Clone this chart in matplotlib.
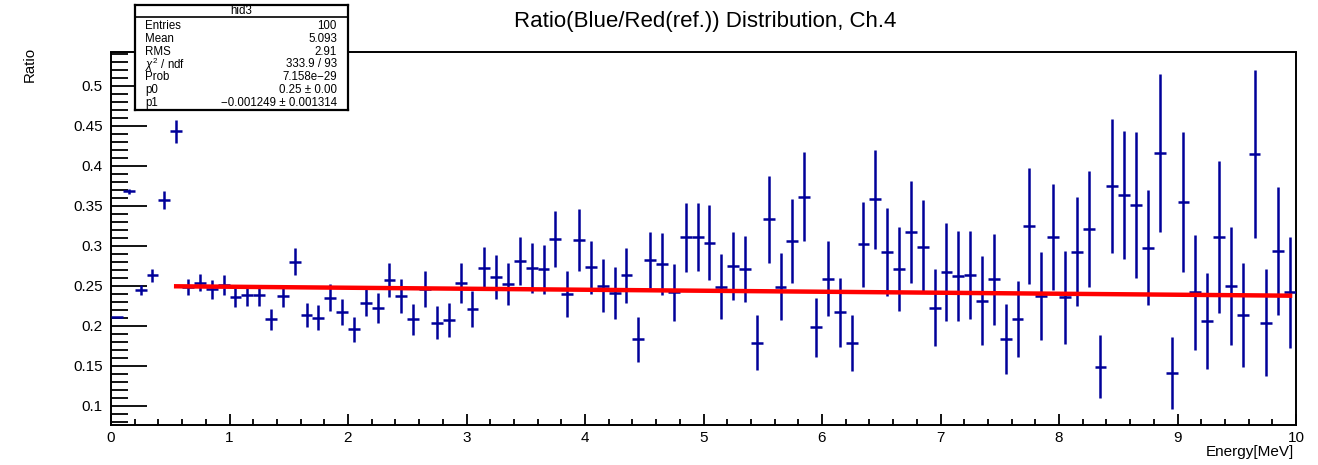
import numpy as np
import matplotlib
matplotlib.use('Agg')
import matplotlib.pyplot as plt
from matplotlib.ticker import MultipleLocator

plt.rcParams['font.family'] = ['Liberation Sans', 'DejaVu Sans']
plt.rcParams['mathtext.fontset'] = 'custom'
plt.rcParams['mathtext.rm'] = 'Liberation Sans'
plt.rcParams['mathtext.it'] = 'Liberation Sans:italic'

# histogram binning: 100 bins from 0 to 10 MeV
bin_edges = np.linspace(0, 10, 101)

# ratio per bin
ratio = [0.211, 0.368, 0.245, 0.263, 0.357, 0.443, 0.249, 0.254, 0.2455, 0.251,
         0.2355, 0.238, 0.238, 0.208, 0.237, 0.280, 0.213, 0.210, 0.235, 0.2175,
         0.1955, 0.229, 0.222, 0.257, 0.237, 0.208, 0.2455, 0.204, 0.207, 0.253,
         0.221, 0.2725, 0.261, 0.252, 0.281, 0.272, 0.2705, 0.308, 0.2396, 0.307,
         0.273, 0.250, 0.241, 0.263, 0.183, 0.282, 0.2775, 0.2417, 0.3105, 0.311,
         0.304, 0.249, 0.2746, 0.271, 0.179, 0.333, 0.249, 0.306, 0.361, 0.198,
         0.259, 0.2167, 0.179, 0.302, 0.358, 0.2925, 0.271, 0.317, 0.299, 0.2225,
         0.267, 0.262, 0.2634, 0.231, 0.258, 0.1834, 0.209, 0.3246, 0.237, 0.311,
         0.2355, 0.2925, 0.321, 0.149, 0.3746, 0.363, 0.351, 0.2975, 0.416, 0.1405,
         0.3546, 0.2417, 0.206, 0.311, 0.250, 0.2134, 0.4146, 0.204, 0.2934, 0.2417]

# error per bin
ratio_err = [0.0, 0.003, 0.006, 0.008, 0.011, 0.014, 0.010, 0.011, 0.0115, 0.0125,
             0.0125, 0.013, 0.0135, 0.013, 0.014, 0.0167, 0.015, 0.0155, 0.0167, 0.0165,
             0.016, 0.0173, 0.019, 0.021, 0.021, 0.0196, 0.0225, 0.021, 0.0215, 0.025,
             0.023, 0.026, 0.0275, 0.0267, 0.030, 0.031, 0.031, 0.035, 0.029, 0.0385,
             0.033, 0.033, 0.032, 0.034, 0.028, 0.035, 0.039, 0.036, 0.043, 0.042,
             0.0467, 0.041, 0.0425, 0.041, 0.034, 0.054, 0.042, 0.052, 0.0556, 0.037,
             0.047, 0.043, 0.035, 0.053, 0.062, 0.055, 0.053, 0.0635, 0.058, 0.048,
             0.061, 0.0567, 0.055, 0.0556, 0.057, 0.044, 0.0475, 0.073, 0.055, 0.066,
             0.058, 0.068, 0.072, 0.039, 0.084, 0.080, 0.091, 0.072, 0.0985, 0.045,
             0.088, 0.0715, 0.060, 0.095, 0.074, 0.0646, 0.105, 0.067, 0.0806, 0.069]

# linear fit pol1
p0 = 0.25
p1 = -0.001249
fit_range = [0.55, 9.95]

stats_labels = ['Entries', 'Mean', 'RMS', r'$\chi^{2}$ / ndf', 'Prob', 'p0', 'p1']
stats_values = ['100', '5.093', '2.91', '333.9 / 93', '7.158e\u221229',
                '0.25 \u00b1 0.00', '\u22120.001249 \u00b1 0.001314']

centers = (bin_edges[:-1] + bin_edges[1:]) / 2
half_w = (bin_edges[1:] - bin_edges[:-1]) / 2

fig = plt.figure(figsize=(13.18, 4.65), dpi=100)
ax = fig.add_axes([111 / 1318, 1 - 425 / 465, 1185 / 1318, 372.5 / 465])

ax.errorbar(centers, ratio, yerr=ratio_err, xerr=half_w, fmt='none',
            ecolor='#000099', elinewidth=1.8, capsize=0, zorder=3)

fx = np.array(fit_range)
ax.plot(fx, p0 + p1 * fx, color='#ff0000', lw=3.2, zorder=4)

ax.set_xlim(0, 10)
ax.set_ylim(0.0759, 0.5416)
ax.xaxis.set_major_locator(MultipleLocator(1))
ax.xaxis.set_minor_locator(MultipleLocator(0.2))
ax.yaxis.set_minor_locator(MultipleLocator(0.01))
ax.set_yticks([0.1, 0.15, 0.2, 0.25, 0.3, 0.35, 0.4, 0.45, 0.5])
ax.set_yticklabels(['0.1', '0.15', '0.2', '0.25', '0.3', '0.35', '0.4', '0.45', '0.5'])

ax.tick_params(axis='both', which='both', direction='in', labelsize=11, width=1.3)
ax.tick_params(axis='y', which='major', length=26, pad=6)
ax.tick_params(axis='y', which='minor', length=12.5)
ax.tick_params(axis='x', which='major', length=8, pad=4)
ax.tick_params(axis='x', which='minor', length=4)
for s in ax.spines.values():
    s.set_linewidth(1.4)

fig.text(1294 / 1318, 1 - 452 / 465, 'Energy[MeV]', ha='right', va='center', fontsize=11)
fig.text(30 / 1318, 1 - 64 / 465, 'Ratio', rotation=90, ha='center', va='center', fontsize=10.8)
fig.text(705 / 1318, 1 - 22 / 465, 'Ratio(Blue/Red(ref.)) Distribution, Ch.4',
         ha='center', va='center', fontsize=16)

# stats box
sb = fig.add_axes([135 / 1318, 1 - 110 / 465, 213 / 1318, 105 / 465])
sb.set_xlim(0, 1)
sb.set_ylim(0, 1)
sb.set_xticks([])
sb.set_yticks([])
for s in sb.spines.values():
    s.set_linewidth(1.6)
sb.axhline(1 - 12 / 105, color='black', lw=1.2)
sb.text(0.5, 1 - 6 / 105, 'hid3', ha='center', va='center', fontsize=8.3)
for i, (lab, val) in enumerate(zip(stats_labels, stats_values)):
    yy = 1 - (21 + 12.8 * i) / 105
    sb.text(10 / 213, yy, lab, ha='left', va='center', fontsize=8.3)
    sb.text(202 / 213, yy, val, ha='right', va='center', fontsize=8.3)

fig.savefig('out.png', dpi=100)
